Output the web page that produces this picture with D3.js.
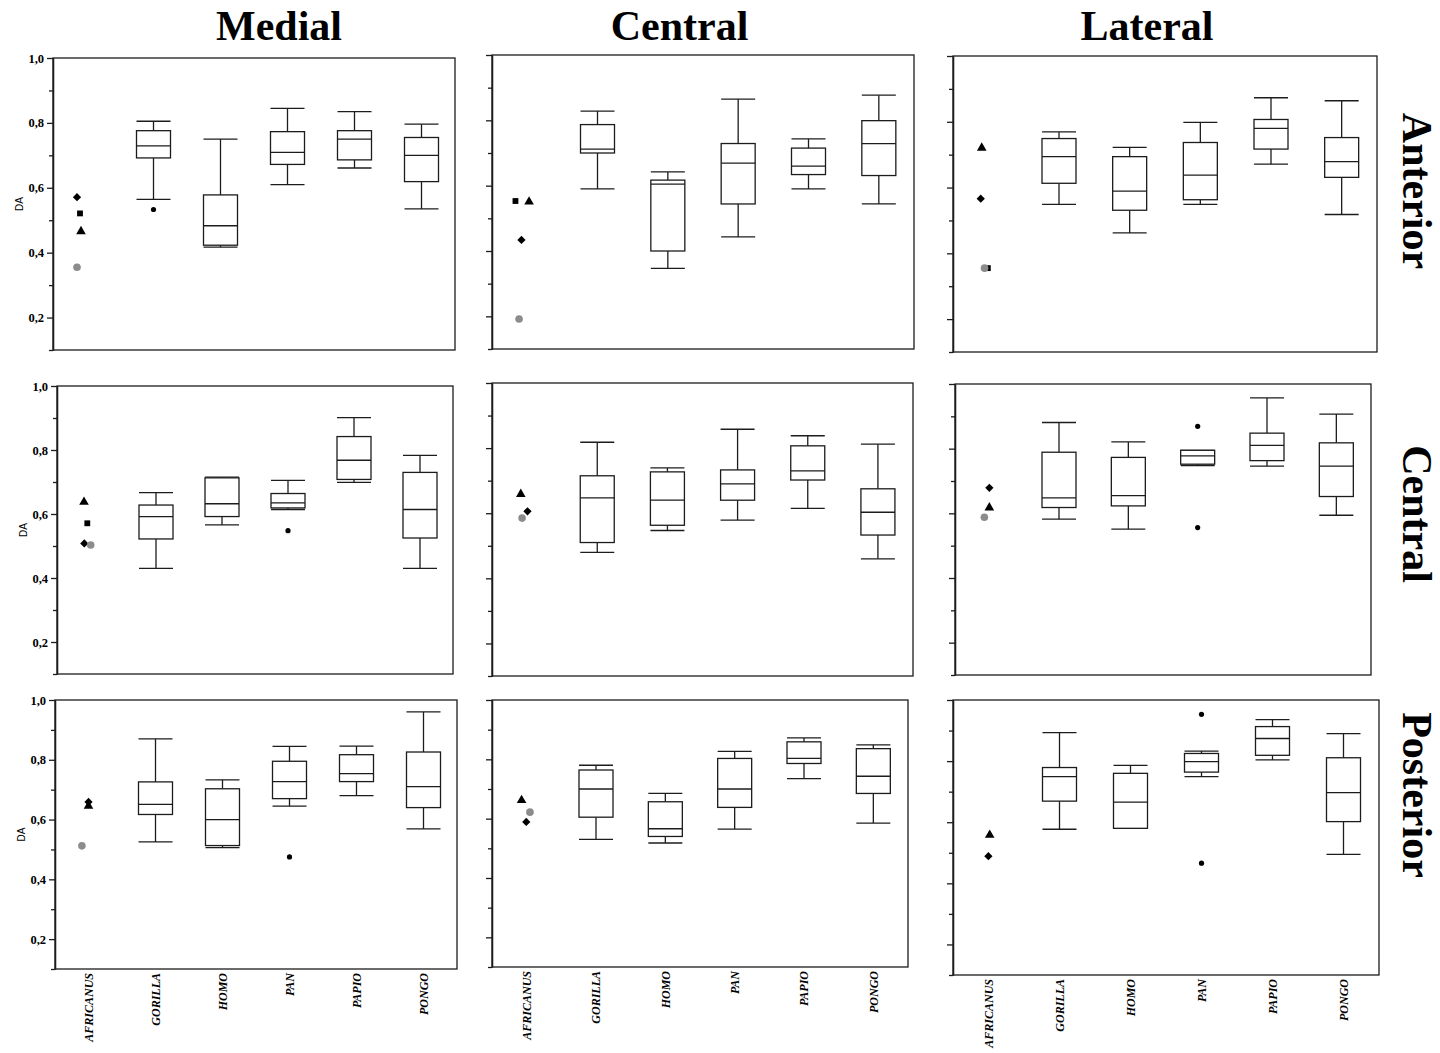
<!DOCTYPE html>
<html>
<head>
<meta charset="utf-8">
<script src="https://cdn.jsdelivr.net/npm/d3@7/dist/d3.min.js"></script>
<style>
  html, body { margin: 0; padding: 0; background: #fff; }
  svg { display: block; }
</style>
</head>
<body>
<svg id="chart" width="1440" height="1053"></svg>
<script>
// ---------------------------------------------------------------------------
// Data: DA per articular region (columns) and zone (rows)
// Box rows are [low whisker, Q1, median, Q3, high whisker] for
// GORILLA, HOMO, PAN, PAPIO, PONGO.
// ---------------------------------------------------------------------------
const species = ["AFRICANUS", "GORILLA", "HOMO", "PAN", "PAPIO", "PONGO"];
const boxSpecies = ["GORILLA", "HOMO", "PAN", "PAPIO", "PONGO"];
const columnTitles = ["Medial", "Central", "Lateral"];
const rowTitles = ["Anterior", "Central", "Posterior"];
const majorTicks = [0.2, 0.4, 0.6, 0.8, 1.0];
const minorTicks = [0.1, 0.3, 0.5, 0.7, 0.9];

const medialAnterior = [
  [0.564, 0.692, 0.729, 0.776, 0.805],
  [0.417, 0.423, 0.483, 0.578, 0.750],
  [0.610, 0.672, 0.709, 0.773, 0.845],
  [0.661, 0.686, 0.750, 0.776, 0.835],
  [0.535, 0.619, 0.700, 0.755, 0.796]
];
const centralAnterior = [
  [0.590, 0.700, 0.712, 0.787, 0.828],
  [0.347, 0.400, 0.605, 0.617, 0.642],
  [0.443, 0.544, 0.669, 0.729, 0.865],
  [0.590, 0.634, 0.660, 0.715, 0.743],
  [0.544, 0.631, 0.729, 0.799, 0.877]
];
const lateralAnterior = [
  [0.549, 0.613, 0.694, 0.749, 0.769],
  [0.462, 0.531, 0.589, 0.694, 0.722],
  [0.549, 0.563, 0.638, 0.737, 0.798],
  [0.671, 0.717, 0.780, 0.807, 0.873],
  [0.518, 0.631, 0.679, 0.752, 0.864]
];
const medialCentral = [
  [0.430, 0.522, 0.592, 0.628, 0.667],
  [0.566, 0.592, 0.632, 0.713, 0.715],
  [0.614, 0.619, 0.635, 0.664, 0.705],
  [0.699, 0.708, 0.768, 0.842, 0.901],
  [0.430, 0.525, 0.614, 0.730, 0.783]
];
const centralCentral = [
  [0.480, 0.510, 0.647, 0.715, 0.818],
  [0.547, 0.563, 0.640, 0.727, 0.739],
  [0.579, 0.640, 0.690, 0.733, 0.858],
  [0.615, 0.702, 0.730, 0.807, 0.838],
  [0.460, 0.533, 0.603, 0.675, 0.812]
];
const lateralCentral = [
  [0.582, 0.618, 0.648, 0.789, 0.881],
  [0.551, 0.623, 0.655, 0.773, 0.821],
  [0.748, 0.752, 0.778, 0.795, 0.795],
  [0.746, 0.763, 0.810, 0.848, 0.957],
  [0.594, 0.652, 0.746, 0.818, 0.907]
];
const medialPosterior = [
  [0.525, 0.617, 0.651, 0.726, 0.870],
  [0.506, 0.513, 0.600, 0.703, 0.733],
  [0.645, 0.670, 0.727, 0.795, 0.845],
  [0.680, 0.727, 0.754, 0.817, 0.846],
  [0.569, 0.640, 0.710, 0.826, 0.960]
];
const centralPosterior = [
  [0.530, 0.605, 0.700, 0.764, 0.780],
  [0.518, 0.540, 0.566, 0.657, 0.685],
  [0.565, 0.638, 0.700, 0.803, 0.827],
  [0.735, 0.786, 0.803, 0.859, 0.872],
  [0.585, 0.685, 0.743, 0.836, 0.849]
];
const lateralPosterior = [
  [0.577, 0.669, 0.749, 0.779, 0.893],
  [0.580, 0.580, 0.666, 0.760, 0.786],
  [0.749, 0.764, 0.798, 0.825, 0.833],
  [0.804, 0.819, 0.874, 0.913, 0.936],
  [0.495, 0.602, 0.697, 0.811, 0.890]
];

// Outlying individuals: [species, DA]
const outliersMedialAnterior = [["GORILLA", 0.533]];
const outliersMedialCentral = [["PAN", 0.548]];
const outliersLateralCentral = [["PAN", 0.869], ["PAN", 0.556]];
const outliersMedialPosterior = [["PAN", 0.475]];
const outliersLateralPosterior = [["PAN", 0.953], ["PAN", 0.466]];

// A. africanus specimens, one symbol per specimen: [symbol, DA]
const africanusMedialAnterior = [["diamond", 0.571], ["square", 0.521], ["triangle", 0.468], ["circle", 0.355]];
const africanusCentralAnterior = [["square", 0.553], ["triangle", 0.553], ["diamond", 0.434], ["circle", 0.192]];
const africanusLateralAnterior = [["triangle", 0.723], ["diamond", 0.566], ["square", 0.355], ["circle", 0.355]];
const africanusMedialCentral = [["triangle", 0.640], ["square", 0.571], ["diamond", 0.508], ["circle", 0.503]];
const africanusCentralCentral = [["triangle", 0.661], ["diamond", 0.606], ["circle", 0.585]];
const africanusLateralCentral = [["diamond", 0.679], ["triangle", 0.620], ["circle", 0.588]];
const africanusMedialPosterior = [["triangle", 0.648], ["diamond", 0.659], ["circle", 0.512]];
const africanusCentralPosterior = [["triangle", 0.665], ["circle", 0.622], ["diamond", 0.589]];
const africanusLateralPosterior = [["triangle", 0.561], ["diamond", 0.489]];

// ---------------------------------------------------------------------------
// Layout: frame of each panel [left, top, right, bottom] and small
// horizontal nudges that keep overlapping specimen symbols legible.
// ---------------------------------------------------------------------------
const panels = [
  { row: 0, col: 0, frame: [53, 58, 455, 350], boxes: medialAnterior, outliers: outliersMedialAnterior, specimens: africanusMedialAnterior,
    nudge: { diamond: -9.5, square: -6.5, triangle: -5.5, circle: -9.5 } },
  { row: 0, col: 1, frame: [492, 55, 914, 349], boxes: centralAnterior, outliers: [], specimens: africanusCentralAnterior,
    nudge: { diamond: -5.7, square: -11.7, triangle: 1.9, circle: -8.1 } },
  { row: 0, col: 2, frame: [953, 56, 1377, 352], boxes: lateralAnterior, outliers: [], specimens: africanusLateralAnterior,
    nudge: { diamond: -7.6, square: -0.5, triangle: -6.6, circle: -3.8 } },
  { row: 1, col: 0, frame: [57, 386, 453, 674], boxes: medialCentral, outliers: outliersMedialCentral, specimens: africanusMedialCentral,
    nudge: { diamond: -5.7, square: -2.7, triangle: -6, circle: 0.7 } },
  { row: 1, col: 1, frame: [492, 383, 913, 676], boxes: centralCentral, outliers: [], specimens: africanusCentralCentral,
    nudge: { diamond: 0.4, square: 0, triangle: -6.3, circle: -5 } },
  { row: 1, col: 2, frame: [955, 384, 1371, 675], boxes: lateralCentral, outliers: outliersLateralCentral, specimens: africanusLateralCentral,
    nudge: { diamond: -0.3, square: 0, triangle: -0.3, circle: -5.3 } },
  { row: 2, col: 0, frame: [55, 700, 457, 969], boxes: medialPosterior, outliers: outliersMedialPosterior, specimens: africanusMedialPosterior,
    nudge: { diamond: 0, square: 0, triangle: 0, circle: -6.6 } },
  { row: 2, col: 1, frame: [492, 700, 908, 967], boxes: centralPosterior, outliers: [], specimens: africanusCentralPosterior,
    nudge: { diamond: -0.4, square: 0, triangle: -5.1, circle: 3.3 } },
  { row: 2, col: 2, frame: [953, 700, 1379, 975], boxes: lateralPosterior, outliers: outliersLateralPosterior, specimens: africanusLateralPosterior,
    nudge: { diamond: -0.1, square: 0, triangle: 1.2, circle: 0 } }
];

const columnTitlePos = [279, 679.5, 1147];
const rowTitlePos = [191, 514, 795];

const SERIF = "'Liberation Serif', 'Times New Roman', Times, serif";
const SANS = "'Liberation Sans', Arial, sans-serif";
const INK = "#1c1c1c";
const BOX_W = 34;

const svg = d3.select("#chart");
svg.append("rect").attr("width", 1440).attr("height", 1053).attr("fill", "#fff");

// square-bodied diamond (a square turned 45°)
const symbolRhomb = {
  draw(ctx, size) {
    const r = Math.sqrt(size / 2);
    ctx.moveTo(0, -r); ctx.lineTo(r, 0); ctx.lineTo(0, r); ctx.lineTo(-r, 0); ctx.closePath();
  }
};
const symbolTypes = {
  diamond: symbolRhomb,
  square: d3.symbolSquare,
  triangle: d3.symbolTriangle
};
const symbolSizes = { diamond: 34, square: 34, triangle: 40 };

panels.forEach(p => {
  const [x0, y0, x1, y1] = p.frame;
  const g = svg.append("g");

  const x = d3.scaleBand().domain(species).range([x0, x1]).paddingInner(0).paddingOuter(0);
  const y = d3.scaleLinear().domain([0.1, 1.0]).range([y1, y0]);
  const cx = s => x(s) + x.bandwidth() / 2;

  // frame
  g.append("rect")
    .attr("x", x0).attr("y", y0)
    .attr("width", x1 - x0).attr("height", y1 - y0)
    .attr("fill", "none").attr("stroke", INK).attr("stroke-width", 1.3);

  // y axis: major and minor ticks
  const labelled = p.col === 0;
  const major = d3.axisLeft(y).tickValues(majorTicks).tickSize(6).tickSizeOuter(0).tickPadding(3)
    .tickFormat(labelled ? (d => d3.format(".1f")(d).replace(".", ",")) : "");
  const minor = d3.axisLeft(y).tickValues(minorTicks).tickSize(4).tickSizeOuter(0).tickFormat("");
  [major, minor].forEach(ax => {
    const a = g.append("g").attr("transform", `translate(${x0},0)`).call(ax);
    a.select(".domain").attr("stroke", INK).attr("stroke-width", 1.3);
    a.selectAll(".tick line").attr("stroke", INK).attr("stroke-width", 1.3);
    a.selectAll(".tick text")
      .attr("fill", "#000")
      .style("font-family", SERIF)
      .style("font-weight", "bold")
      .style("font-size", "12.5px");
  });

  if (labelled) {
    g.append("text")
      .attr("transform", `translate(${x0 - 34},${(y0 + y1) / 2}) rotate(-90)`)
      .attr("text-anchor", "middle")
      .attr("dy", "0.35em")
      .style("font-family", SANS)
      .style("font-size", "10px")
      .attr("fill", "#000")
      .text("DA");
  }

  // category labels on the bottom row
  if (p.row === 2) {
    g.selectAll("text.cat").data(species).join("text")
      .attr("class", "cat")
      .attr("transform", d => `translate(${cx(d)},${y1 + 4}) rotate(-90)`)
      .attr("text-anchor", "end")
      .attr("dy", "0.35em")
      .style("font-family", SERIF)
      .style("font-weight", "bold")
      .style("font-style", "italic")
      .style("font-size", "12px")
      .attr("fill", "#000")
      .text(d => d);
  }

  // box plots
  const boxes = g.selectAll("g.box").data(p.boxes.map((v, i) => ({ sp: boxSpecies[i], v })))
    .join("g").attr("class", "box")
    .attr("stroke", INK).attr("stroke-width", 1.3).attr("fill", "none");

  boxes.each(function (d) {
    const b = d3.select(this);
    const c = cx(d.sp);
    const [lo, q1, med, q3, hi] = d.v;
    // whiskers
    b.append("line").attr("x1", c).attr("x2", c).attr("y1", y(q3)).attr("y2", y(hi));
    b.append("line").attr("x1", c).attr("x2", c).attr("y1", y(q1)).attr("y2", y(lo));
    b.append("line").attr("x1", c - BOX_W / 2).attr("x2", c + BOX_W / 2).attr("y1", y(hi)).attr("y2", y(hi));
    b.append("line").attr("x1", c - BOX_W / 2).attr("x2", c + BOX_W / 2).attr("y1", y(lo)).attr("y2", y(lo));
    // box and median
    b.append("rect")
      .attr("x", c - BOX_W / 2).attr("y", y(q3))
      .attr("width", BOX_W).attr("height", y(q1) - y(q3))
      .attr("fill", "#fff");
    b.append("line").attr("x1", c - BOX_W / 2).attr("x2", c + BOX_W / 2).attr("y1", y(med)).attr("y2", y(med));
  });

  // outliers
  g.selectAll("circle.out").data(p.outliers).join("circle")
    .attr("class", "out")
    .attr("cx", d => cx(d[0]))
    .attr("cy", d => y(d[1]))
    .attr("r", 2.6)
    .attr("fill", "#000");

  // A. africanus specimens
  p.specimens.forEach(([shape, v]) => {
    const px = cx("AFRICANUS") + (p.nudge[shape] || 0);
    const py = y(v);
    if (shape === "circle") {
      g.append("circle").attr("cx", px).attr("cy", py).attr("r", 3.8).attr("fill", "#8c8c8c");
    } else {
      g.append("path")
        .attr("d", d3.symbol().type(symbolTypes[shape]).size(symbolSizes[shape])())
        .attr("transform", `translate(${px},${py + (shape === "triangle" ? 0.8 : 0)})`)
        .attr("fill", "#000");
    }
  });
});

// column titles
svg.selectAll("text.coltitle").data(columnTitles).join("text")
  .attr("class", "coltitle")
  .attr("x", (d, i) => columnTitlePos[i])
  .attr("y", 39.5)
  .attr("text-anchor", "middle")
  .style("font-family", SERIF)
  .style("font-weight", "bold")
  .style("font-size", "42px")
  .attr("fill", "#000")
  .text(d => d);

// row titles, set vertically on the right
svg.selectAll("text.rowtitle").data(rowTitles).join("text")
  .attr("class", "rowtitle")
  .attr("transform", (d, i) => `translate(1402.5,${rowTitlePos[i]}) rotate(90)`)
  .attr("text-anchor", "middle")
  .style("font-family", SERIF)
  .style("font-weight", "bold")
  .style("font-size", "42px")
  .attr("fill", "#000")
  .text(d => d);
</script>
</body>
</html>
